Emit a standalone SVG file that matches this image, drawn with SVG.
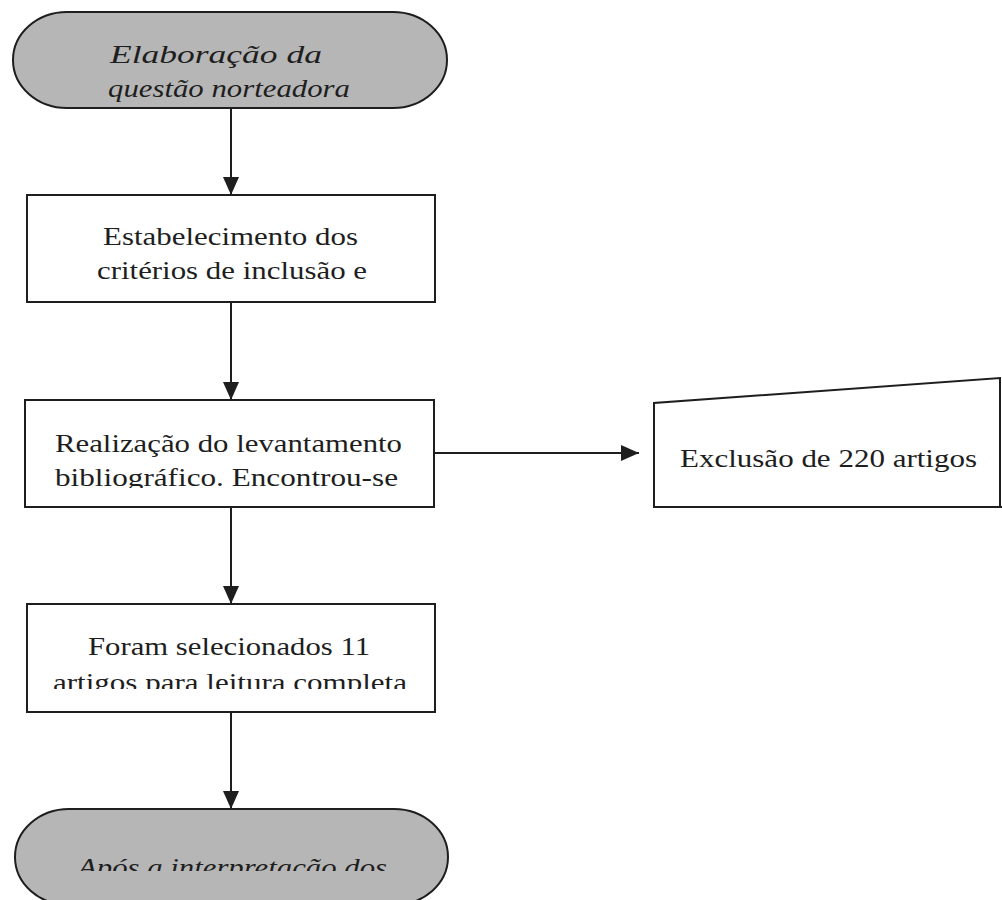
<svg xmlns="http://www.w3.org/2000/svg" width="1002" height="900" viewBox="0 0 1002 900">
<style>
.term{fill:#b6b6b6;stroke:#1e1e1e;stroke-width:2}
.box{fill:#ffffff;stroke:#1e1e1e;stroke-width:2}
.t{font-size:26px;fill:#1e1e1e}
.i{font-style:italic}
.c{stroke:#1e1e1e;stroke-width:2;fill:none}
</style>
<defs>
<marker id="ah2" viewBox="0 0 18 16" refX="18" refY="8" markerWidth="18" markerHeight="16" markerUnits="userSpaceOnUse" orient="auto">
<path d="M0,0 L18,8 L0,16 Z" fill="#1e1e1e"/>
</marker>
<clipPath id="clip3"><rect x="0" y="0" width="1002" height="488"/></clipPath>
<clipPath id="clip4"><rect x="0" y="0" width="1002" height="689"/></clipPath>
<clipPath id="clip5"><rect x="0" y="0" width="1002" height="871"/></clipPath>
</defs>
<rect width="1002" height="900" fill="#ffffff"/>
<g id="connectors">
<line class="c" x1="231" y1="108" x2="231" y2="195" marker-end="url(#ah2)"/>
<line class="c" x1="231" y1="302" x2="231" y2="400" marker-end="url(#ah2)"/>
<line class="c" x1="434" y1="453" x2="639" y2="453" marker-end="url(#ah2)"/>
<line class="c" x1="231" y1="507" x2="231" y2="604" marker-end="url(#ah2)"/>
<line class="c" x1="231" y1="712" x2="231" y2="809" marker-end="url(#ah2)"/>
</g>
<g font-family="Liberation Serif, Tinos, Times New Roman, serif">
<g id="n1">
<path class="term" d="M67 12 H393 A54 48 0 0 1 393 108 H67 A54 48 0 0 1 67 12 Z"/>
<text class="t i" x="110" y="63" textLength="212" lengthAdjust="spacingAndGlyphs">Elaboração da</text>
<text class="t i" x="108" y="97" textLength="242" lengthAdjust="spacingAndGlyphs">questão norteadora</text>
</g>
<g id="n2">
<rect class="box" x="27" y="195" width="408" height="107"/>
<text class="t" x="103" y="245" textLength="255" lengthAdjust="spacingAndGlyphs">Estabelecimento dos</text>
<text class="t" x="97" y="279" textLength="270" lengthAdjust="spacingAndGlyphs">critérios de inclusão e</text>
</g>
<g id="n3">
<rect class="box" x="25" y="400" width="409" height="107"/>
<text class="t" x="55" y="452" textLength="347" lengthAdjust="spacingAndGlyphs">Realização do levantamento</text>
<text class="t" x="55" y="486" textLength="343" lengthAdjust="spacingAndGlyphs" clip-path="url(#clip3)">bibliográfico. Encontrou-se</text>
</g>
<g id="n4">
<path class="box" d="M1003 507 H654 V403 L1000 378 V507"/>
<text class="t" x="680" y="467" textLength="297" lengthAdjust="spacingAndGlyphs">Exclusão de 220 artigos</text>
</g>
<g id="n5">
<rect class="box" x="27" y="604" width="408" height="108"/>
<text class="t" x="88" y="655" textLength="282" lengthAdjust="spacingAndGlyphs">Foram selecionados 11</text>
<text class="t" x="53" y="691" textLength="354" lengthAdjust="spacingAndGlyphs" clip-path="url(#clip4)">artigos para leitura completa</text>
</g>
<g id="n6">
<path class="term" d="M69 809 H394 A54 48 0 0 1 394 905 H69 A54 48 0 0 1 69 809 Z"/>
<text class="t i" x="78" y="876" textLength="309" lengthAdjust="spacingAndGlyphs" clip-path="url(#clip5)">Após a interpretação dos</text>
</g>
</g>
</svg>
